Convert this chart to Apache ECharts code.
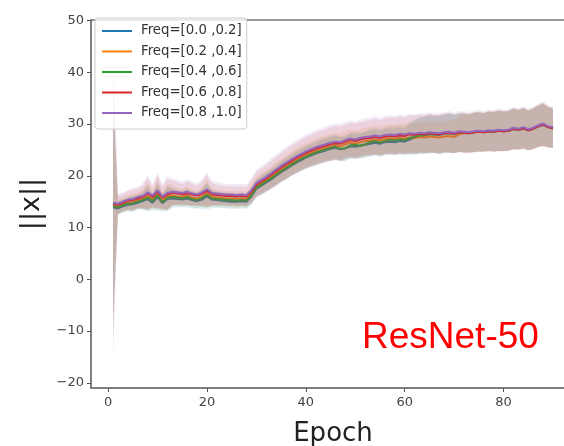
<!DOCTYPE html>
<html>
<head>
<meta charset="utf-8">
<script src="https://cdn.jsdelivr.net/npm/echarts@6/dist/echarts.min.js"></script>
<style>
  html, body { margin: 0; padding: 0; background: #fff; }
  #chart { width: 564px; height: 446px; }
</style>
</head>
<body>
<div id="chart"></div>
<script>
// Epochs (x values)
const epochs = [1,2,3,4,5,6,7,8,9,10,11,12,13,14,15,16,17,18,19,20,21,22,23,24,25,26,27,28,29,30,
  31,32,33,34,35,36,37,38,39,40,41,42,43,44,45,46,47,48,49,50,51,52,53,54,55,56,57,58,59,60,
  61,62,63,64,65,66,67,68,69,70,71,72,73,74,75,76,77,78,79,80,81,82,83,84,85,86,87,88,89,90];

const seriesNames = ['Freq=[0.0 ,0.2]', 'Freq=[0.2 ,0.4]', 'Freq=[0.4 ,0.6]', 'Freq=[0.6 ,0.8]', 'Freq=[0.8 ,1.0]'];

// Mean ||x|| per frequency band
const meanF0 = [13.9,13.7,14.1,14.4,14.5,14.8,15.1,15.5,14.8,15.9, 14.7,15.5,15.6,15.5,15.4,15.6,15.3,15.1,15.4,16.0,
  15.4,15.3,15.2,15.1,15.0,15.0,15.1,15.0,16.0,17.5, 18.1,18.7,19.3,20.0,20.7,21.3,21.9,22.5,23.0,23.5,
  23.9,24.3,24.6,24.9,25.2,25.4,25.1,25.3,25.7,25.6, 25.8,26.0,26.2,26.4,26.2,26.5,26.6,26.5,26.7,26.6,
  27.0,27.4,27.7,27.8,28.0,28.0,27.9,28.1,28.2,28.1, 28.3,28.3,28.2,28.4,28.5,28.4,28.6,28.5,28.7,28.6,
  28.7,29.0,28.9,29.1,28.8,29.1,29.5,29.8,29.4,29.2];
const meanF1 = [14.3,14.1,14.5,14.8,14.9,15.3,15.5,16.1,15.4,16.5, 15.2,16.0,16.2,16.0,15.9,16.2,15.8,15.6,16.0,16.6,
  15.9,15.8,15.7,15.6,15.6,15.5,15.6,15.5,16.5,18.0, 18.6,19.2,19.8,20.5,21.2,21.8,22.4,23.0,23.5,24.0,
  24.4,24.8,25.1,25.4,25.6,25.9,25.7,26.1,26.4,26.2, 26.5,26.7,26.8,27.0,26.8,27.1,27.2,27.1,27.3,27.2,
  27.4,27.3,27.5,27.4,27.6,27.5,27.4,27.6,27.7,27.5, 28.0,28.2,28.2,28.4,28.5,28.4,28.6,28.6,28.7,28.6,
  28.7,29.1,28.9,29.2,28.8,29.1,29.6,29.9,29.4,29.2];
const meanF2 = [14.1,13.9,14.3,14.6,14.7,15.0,15.3,15.8,15.1,16.2, 14.9,15.7,15.9,15.8,15.6,15.9,15.5,15.3,15.7,16.3,
  15.6,15.5,15.4,15.3,15.3,15.2,15.3,15.2,16.2,17.7, 18.3,18.9,19.5,20.2,20.9,21.5,22.1,22.7,23.2,23.7,
  24.1,24.5,24.8,25.1,25.4,25.6,25.2,25.3,25.9,26.0, 25.8,26.1,26.5,26.7,26.4,26.7,26.9,26.8,27.0,26.9,
  27.3,27.5,27.8,27.9,28.1,28.0,28.0,28.2,28.3,28.1, 28.4,28.3,28.2,28.4,28.5,28.4,28.6,28.5,28.7,28.6,
  28.7,29.1,28.9,29.2,28.8,29.1,29.6,29.9,29.4,29.2];
const meanF3 = [14.6,14.4,14.8,15.2,15.3,15.6,15.9,16.6,15.9,16.9, 15.8,16.4,16.7,16.6,16.4,16.6,16.4,16.2,16.5,17.1,
  16.4,16.3,16.2,16.1,16.1,16.0,16.1,16.0,16.9,18.3, 18.9,19.5,20.2,20.9,21.6,22.2,22.8,23.4,23.9,24.4,
  24.8,25.2,25.5,25.8,26.1,26.3,26.2,26.6,26.9,26.7, 27.0,27.2,27.3,27.5,27.3,27.6,27.7,27.6,27.8,27.7,
  28.0,27.9,28.1,28.0,28.2,28.1,28.0,28.2,28.3,28.1, 28.4,28.3,28.2,28.4,28.5,28.4,28.6,28.5,28.7,28.6,
  28.7,29.1,28.9,29.2,28.8,29.1,29.6,29.9,29.4,29.2];
const meanF4 = [14.8,14.6,15.0,15.4,15.5,15.9,16.1,16.8,16.2,17.2, 16.0,16.7,16.9,16.8,16.7,16.9,16.6,16.4,16.8,17.4,
  16.7,16.6,16.5,16.4,16.4,16.3,16.4,16.3,17.2,18.6, 19.2,19.8,20.5,21.2,21.9,22.5,23.1,23.7,24.2,24.7,
  25.1,25.5,25.8,26.1,26.4,26.6,26.5,26.9,27.2,27.0, 27.3,27.5,27.6,27.8,27.6,27.9,28.0,27.9,28.1,28.0,
  28.2,28.1,28.3,28.2,28.4,28.3,28.2,28.4,28.5,28.3, 28.6,28.5,28.4,28.6,28.7,28.6,28.8,28.7,28.9,28.8,
  28.9,29.3,29.1,29.4,29.0,29.3,29.8,30.1,29.6,29.4];

// Standard deviation per frequency band (shaded region = mean ± std)
const stdF0 = [24, 1.3,1.2,1.3,1.5,1.4,1.6,2.4,1.5,2.6, 1.6,2.3,1.8,1.6,1.5,1.7,1.6,1.4,1.8,2.5,
  1.6,1.5,1.4,1.4,1.4,1.4,1.4,1.4,1.6,1.7, 1.8,1.8,1.9,1.9,2.0,2.0,2.0,2.1,2.1,2.1,
  2.2,2.2,2.2,2.3,2.3,2.3,2.3,2.4,2.4,2.4, 2.4,2.5,2.5,2.5,2.5,2.6,2.6,2.6,2.6,2.6,
  3.0,3.3,3.5,3.6,3.7,3.6,3.7,3.7,3.8,3.7, 3.7,3.8,3.7,3.8,3.8,3.7,3.8,3.8,3.9,3.8,
  3.8,3.9,3.8,3.9,3.8,3.9,4.0,4.1,3.9,3.8];
const stdF1 = [18, 1.4,1.3,1.4,1.6,1.5,1.7,2.6,1.6,2.8, 1.7,2.5,1.9,1.7,1.6,1.8,1.7,1.5,1.9,2.6,
  1.7,1.6,1.5,1.5,1.5,1.5,1.5,1.5,1.7,1.8, 1.9,1.9,2.0,2.1,2.1,2.2,2.2,2.2,2.3,2.3,
  2.3,2.4,2.4,2.4,2.5,2.5,2.5,2.5,2.6,2.6, 2.6,2.6,2.7,2.7,2.7,2.7,2.8,2.8,2.8,2.8,
  2.9,2.9,2.9,2.9,3.0,3.0,3.0,3.0,3.1,3.1, 3.5,3.7,3.7,3.8,3.8,3.7,3.8,3.8,3.9,3.8,
  3.8,3.9,3.8,3.9,3.8,3.9,4.0,4.1,3.9,3.8];
const stdF2 = [21, 1.3,1.3,1.3,1.5,1.4,1.7,2.5,1.5,2.7, 1.6,2.4,1.8,1.6,1.6,1.7,1.6,1.5,1.8,2.5,
  1.6,1.5,1.5,1.4,1.4,1.4,1.4,1.4,1.6,1.7, 1.8,1.9,1.9,2.0,2.0,2.1,2.1,2.1,2.2,2.2,
  2.2,2.3,2.3,2.3,2.4,2.4,2.4,2.4,2.5,2.5, 2.5,2.5,2.6,2.6,2.6,2.6,2.7,2.7,2.7,2.7,
  3.1,3.4,3.5,3.6,3.7,3.6,3.7,3.7,3.8,3.7, 3.7,3.8,3.7,3.8,3.8,3.7,3.8,3.8,3.9,3.8,
  3.8,3.9,3.8,3.9,3.8,3.9,4.0,4.1,3.9,3.8];
const stdF3 = [26, 1.8,1.7,1.8,2.0,1.9,2.2,3.1,2.0,3.2, 2.1,3.0,2.4,2.2,2.0,2.3,2.1,1.9,2.4,3.1,
  2.2,2.0,1.9,1.9,1.9,1.9,1.9,1.9,2.2,2.4, 2.5,2.6,2.7,2.8,2.8,2.9,2.9,3.0,3.0,3.1,
  3.1,3.2,3.2,3.2,3.3,3.3,3.3,3.3,3.4,3.4, 3.4,3.4,3.5,3.5,3.5,3.5,3.6,3.6,3.6,3.6,
  3.7,3.7,3.7,3.7,3.8,3.7,3.8,3.8,3.8,3.8, 3.8,3.9,3.8,3.9,3.9,3.8,3.9,3.9,4.0,3.9,
  3.9,4.0,3.9,4.0,3.9,4.0,4.1,4.2,4.0,3.9];
const stdF4 = [31, 2.0,1.8,1.9,2.2,2.0,2.4,3.3,2.2,3.4, 2.3,3.2,2.6,2.4,2.2,2.5,2.3,2.1,2.6,3.3,
  2.4,2.2,2.1,2.0,2.0,2.1,2.0,2.1,2.4,2.6, 2.7,2.8,2.9,3.0,3.0,3.1,3.1,3.2,3.2,3.3,
  3.3,3.4,3.4,3.4,3.5,3.5,3.5,3.5,3.6,3.5, 3.6,3.6,3.6,3.7,3.6,3.7,3.7,3.7,3.8,3.7,
  3.8,3.8,3.9,3.8,3.9,3.8,3.9,3.9,4.0,3.9, 3.9,4.0,3.9,4.0,4.0,3.9,4.0,4.0,4.1,4.0,
  4.0,4.1,4.0,4.1,4.0,4.1,4.2,4.3,4.1,4.0];

const xTicks = [0, 20, 40, 60, 80];
const yTicks = [-20, -10, 0, 10, 20, 30, 40, 50];

const means = [meanF0, meanF1, meanF2, meanF3, meanF4];
const stds = [stdF0, stdF1, stdF2, stdF3, stdF4];
const colors = ['#1f77b4', '#ff7f0e', '#2ca02c', '#d62728', '#9467bd'];

const series = [];
means.forEach(function (m, k) {
  const s = stds[k];
  // rows: [epoch, mean - std, mean + std]
  const bandRows = m.map(function (v, i) { return [epochs[i], v - s[i], v + s[i]]; });
  series.push({
    type: 'custom', name: 'band' + k, silent: true, z: 2 + k * 2,
    data: bandRows,
    encode: { x: 0, y: [1, 2] },
    renderItem: function (params, api) {
      if (params.dataIndex !== 0) return null;
      const upper = [], lower = [];
      for (let i = 0; i < bandRows.length; i++) {
        upper.push(api.coord([bandRows[i][0], bandRows[i][2]]));
        lower.push(api.coord([bandRows[i][0], bandRows[i][1]]));
      }
      return {
        type: 'polygon',
        shape: { points: upper.concat(lower.reverse()) },
        style: { fill: colors[k], opacity: 0.13 }
      };
    }
  });
  series.push({
    type: 'line', name: seriesNames[k], showSymbol: false, z: 3 + k * 2,
    data: m.map(function (v, i) { return [epochs[i], v]; }),
    itemStyle: { color: colors[k] },
    lineStyle: { color: colors[k], width: 2 }
  });
});

const chart = echarts.init(document.getElementById('chart'), null, { renderer: 'canvas' });
chart.setOption({
  animation: false,
  backgroundColor: '#fff',
  textStyle: { fontFamily: 'DejaVu Sans' },
  grid: {
    left: 91, top: 20, right: -11, bottom: 58, outerBoundsMode: 'none',
    show: true, borderColor: '#777', borderWidth: 1.5, backgroundColor: 'transparent'
  },
  legend: {
    data: seriesNames.map(function (n) { return { name: n, icon: 'rect' }; }),
    orient: 'vertical', left: 95, top: 18, z: 50,
    itemWidth: 30, itemHeight: 2, itemGap: 6.5,
    backgroundColor: 'rgba(255,255,255,0.8)', borderColor: '#ccc', borderWidth: 1, borderRadius: 3,
    padding: [6, 5, 9, 7],
    textStyle: { fontSize: 13.3, color: '#333', lineHeight: 14, padding: [0, 0, 0, 4], fontFamily: 'DejaVu Sans' }
  },
  xAxis: {
    type: 'value', min: -3.45, max: 94.45,
    name: 'Epoch', nameLocation: 'middle', nameGap: 33,
    nameTextStyle: { fontSize: 26, color: '#222', fontFamily: 'DejaVu Sans' },
    axisLine: { show: true, onZero: false, lineStyle: { color: '#777', width: 1.5 } },
    axisTick: { show: true, length: 4, customValues: xTicks, lineStyle: { color: '#555' } },
    axisLabel: { customValues: xTicks, fontSize: 13, color: '#444', margin: 8 },
    splitLine: { show: false }
  },
  yAxis: {
    type: 'value', min: -21, max: 50.1,
    name: '||x||', nameLocation: 'middle', nameGap: 45, nameRotate: 90,
    nameTextStyle: { fontSize: 27, color: '#222', fontFamily: 'DejaVu Sans' },
    axisLine: { show: true, onZero: false, lineStyle: { color: '#777', width: 1.5 } },
    axisTick: { show: true, length: 4, customValues: yTicks, lineStyle: { color: '#555' } },
    axisLabel: {
      customValues: yTicks, fontSize: 13, color: '#444', margin: 7,
      formatter: function (v) { return String(v).replace('-', '\u2212'); }
    },
    splitLine: { show: false }
  },
  graphic: [{
    type: 'text', left: 362, top: 319, z: 100,
    style: { text: 'ResNet-50', fontSize: 37, fill: '#ff0000', fontFamily: 'Liberation Sans' }
  }],
  series: series
});
</script>
</body>
</html>
